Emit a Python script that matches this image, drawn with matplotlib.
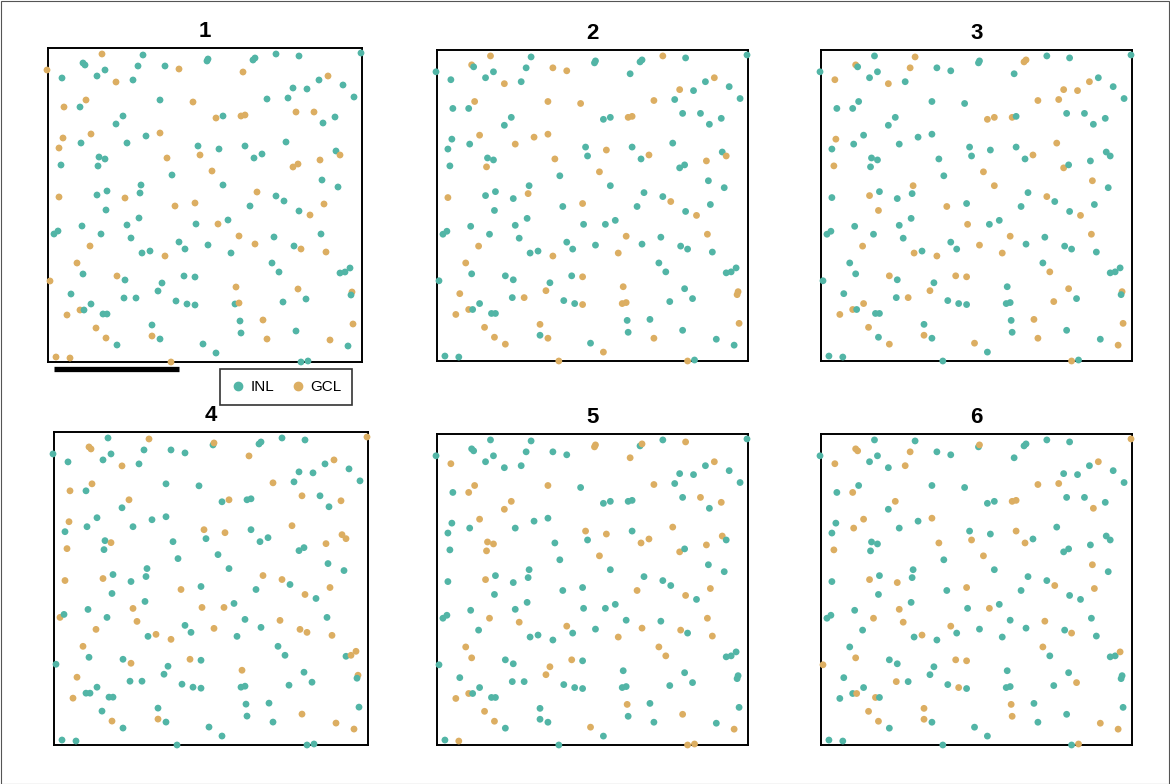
import numpy as np
import matplotlib.pyplot as plt
from matplotlib.lines import Line2D
from matplotlib.patches import Rectangle

plt.rcParams['font.family'] = ['Liberation Sans', 'DejaVu Sans']

inl_color = '#52b5a6'
gcl_color = '#dcae62'

# cell positions, shared by every panel (field units, y measured downward)
cell_x = [54, 95, -1, 35, 37, 57, 90, 117, 131, 14, 49, 68, 85, 38, 16, 32, 112, 145, 75, 68,
          15, 43, 98, 112, 11, 33, 79, 150, 152, 51, 57, 13, 50, 119, 124, 93, 11, 49, 59, 77,
          92, 147, 127, 159, 160, 205, 207, 228, 251, 313, 195, 280, 271, 295, 245, 259, 240, 219, 306, 168,
          175, 193, 197, 248, 266, 275, 287, 238, 171, 197, 206, 214, 288, 292, 164, 245, 250, 272, 175, 274,
          290, 209, 228, 236, 202, 276, 58, 34, 79, 91, 148, 6, 10, 53, 83, 42, 131, 137, 94, 102,
          117, 29, 35, 2, 69, 77, 136, 147, 114, 110, 23, 76, 88, 128, 139, 147, 43, 32, 36, 19,
          55, 59, 48, 58, 69, 104, 104, 112, 155, 8, 22, 123, 251, 262, 170, 180, 191, 207, 226, 160,
          183, 246, 253, 273, 278, 224, 231, 292, 297, 302, 188, 250, 304, 303, 258, 235, 187, 191, 192, 215,
          193, 248, 305, 219, 282, 300, 168, 253, 260]
cell_y = [6, 7, 22, 15, 17, 22, 18, 18, 21, 30, 28, 34, 32, 52, 59, 59, 52, 54, 68, 76,
          90, 86, 88, 85, 100, 95, 95, 98, 107, 109, 111, 117, 118, 110, 127, 137, 149, 147, 143, 150,
          145, 155, 158, 13, 11, 12, 10, 6, 8, 5, 24, 28, 32, 37, 40, 41, 50, 51, 49, 70,
          68, 68, 67, 64, 64, 75, 69, 94, 101, 98, 110, 106, 103, 107, 123, 119, 116, 112, 137, 132,
          139, 144, 148, 153, 158, 156, 162, 178, 177, 170, 176, 186, 183, 186, 190, 198, 194, 201, 205, 203,
          208, 215, 226, 233, 228, 232, 228, 229, 235, 243, 246, 250, 250, 253, 256, 257, 256, 262, 262, 267,
          266, 266, 280, 290, 297, 277, 288, 291, 296, 309, 310, 314, 163, 167, 176, 172, 188, 196, 189, 197,
          205, 198, 201, 186, 204, 215, 224, 225, 224, 220, 239, 241, 244, 247, 251, 254, 256, 255, 273, 272,
          285, 283, 276, 291, 292, 298, 305, 314, 313]

# cells labelled GCL in each panel (1-based cell numbers), the rest are INL
gcl_1 = [1, 3, 9, 12, 14, 15, 18, 21, 22, 24, 25, 29, 34, 37, 40, 42, 43, 51, 52, 60,
         62, 63, 64, 65, 74, 75, 76, 77, 78, 82, 86, 96, 101, 102, 104, 105, 118, 120, 123, 124,
         127, 130, 131, 132, 134, 135, 137, 138, 143, 145, 151, 152, 153, 158, 160, 163, 164, 165]
gcl_2 = [1, 4, 8, 9, 12, 14, 17, 18, 22, 23, 24, 27, 33, 34, 37, 41, 42, 48, 52, 55,
         58, 62, 63, 69, 72, 74, 75, 78, 84, 96, 101, 102, 108, 110, 111, 113, 116, 118, 120, 123,
         124, 125, 126, 128, 132, 134, 137, 141, 144, 151, 153, 154, 157, 158, 163, 164, 167, 168]
gcl_3 = [2, 4, 7, 10, 12, 21, 32, 36, 38, 43, 46, 47, 53, 55, 56, 57, 58, 60, 61, 62,
         68, 72, 75, 76, 79, 80, 83, 87, 91, 96, 99, 101, 105, 107, 108, 110, 113, 117, 118, 120,
         123, 125, 127, 129, 134, 137, 140, 141, 144, 147, 152, 153, 156, 160, 163, 164, 166, 168]
gcl_4 = [2, 4, 5, 12, 14, 15, 19, 21, 28, 31, 32, 37, 38, 43, 45, 50, 51, 52, 58, 61,
         64, 67, 68, 69, 73, 74, 78, 82, 83, 86, 89, 91, 92, 95, 96, 100, 101, 102, 106, 107,
         111, 120, 124, 127, 133, 135, 139, 140, 142, 143, 145, 149, 150, 151, 153, 162, 165, 166]
gcl_5 = [10, 14, 16, 17, 19, 20, 22, 28, 30, 31, 33, 38, 44, 45, 47, 49, 51, 52, 58, 65,
         67, 68, 69, 71, 72, 73, 75, 76, 78, 85, 86, 94, 95, 97, 102, 103, 107, 109, 110, 118,
         120, 123, 124, 129, 131, 133, 138, 141, 142, 144, 145, 146, 147, 159, 162, 166, 168, 169]
gcl_6 = [4, 5, 7, 10, 13, 16, 19, 22, 24, 26, 29, 32, 34, 38, 40, 42, 45, 50, 52, 57,
         58, 62, 63, 66, 70, 71, 75, 80, 84, 86, 89, 94, 95, 97, 100, 103, 104, 107, 108, 112,
         115, 119, 121, 123, 124, 126, 127, 135, 139, 143, 146, 150, 155, 159, 161, 165, 166, 169]

panel_titles = ['1', '2', '3', '4', '5', '6']
panel_gcl = [gcl_1, gcl_2, gcl_3, gcl_4, gcl_5, gcl_6]
field_size = 314
scale_bar_len = 125

W, H = 1170, 784
fig = plt.figure(figsize=(W / 100, H / 100), dpi=100)

# outer frame of the figure
fig.patches.append(Rectangle((0.5 / W, 0.5 / H), 1 - 1.5 / W, 1 - 1.5 / H, transform=fig.transFigure,
                             fill=False, edgecolor='#555555', lw=0.8))

# panel boxes in pixels: left, top, width, height
boxes = [(48, 48, 314, 314), (437, 50, 311, 311), (821, 50, 311, 311),
         (54, 432, 314, 313), (437, 434, 311, 311), (821, 434, 311, 311)]

x = np.array(cell_x)
y = np.array(cell_y)
ids = np.arange(1, len(cell_x) + 1)

axes = []
for (left, top, w, h), title, gcl in zip(boxes, panel_titles, panel_gcl):
    ax = fig.add_axes([left / W, 1 - (top + h) / H, w / W, h / H])
    is_gcl = np.isin(ids, gcl)
    colors = np.where(is_gcl, gcl_color, inl_color)
    ax.scatter(x, y, c=colors, s=24, edgecolors='none', clip_on=False, zorder=3)
    ax.set_xlim(0, field_size)
    ax.set_ylim(field_size, 0)
    ax.set_xticks([])
    ax.set_yticks([])
    for sp in ax.spines.values():
        sp.set_linewidth(1.4)
        sp.set_color('black')
    ax.set_title(title, fontsize=16, fontweight='bold', pad=8)
    axes.append(ax)

# scale bar under the first panel
ax1 = axes[0]
ax1.plot([6, 6 + scale_bar_len], [321, 321], color='black', lw=3.8,
         solid_capstyle='butt', clip_on=False)

handles = [Line2D([], [], marker='o', ls='none', color=inl_color, markersize=6, label='INL'),
           Line2D([], [], marker='o', ls='none', color=gcl_color, markersize=6, label='GCL')]
leg = fig.legend(handles=handles, loc='center', bbox_to_anchor=(286 / W, 1 - 387 / H), ncol=2,
                 frameon=True, fancybox=False, fontsize=11, handletextpad=0.35, columnspacing=1.0,
                 handlelength=1.0, borderpad=0.7)
leg.get_frame().set_edgecolor('black')
leg.get_frame().set_linewidth(1.2)

fig.savefig('out.png', dpi=100)
